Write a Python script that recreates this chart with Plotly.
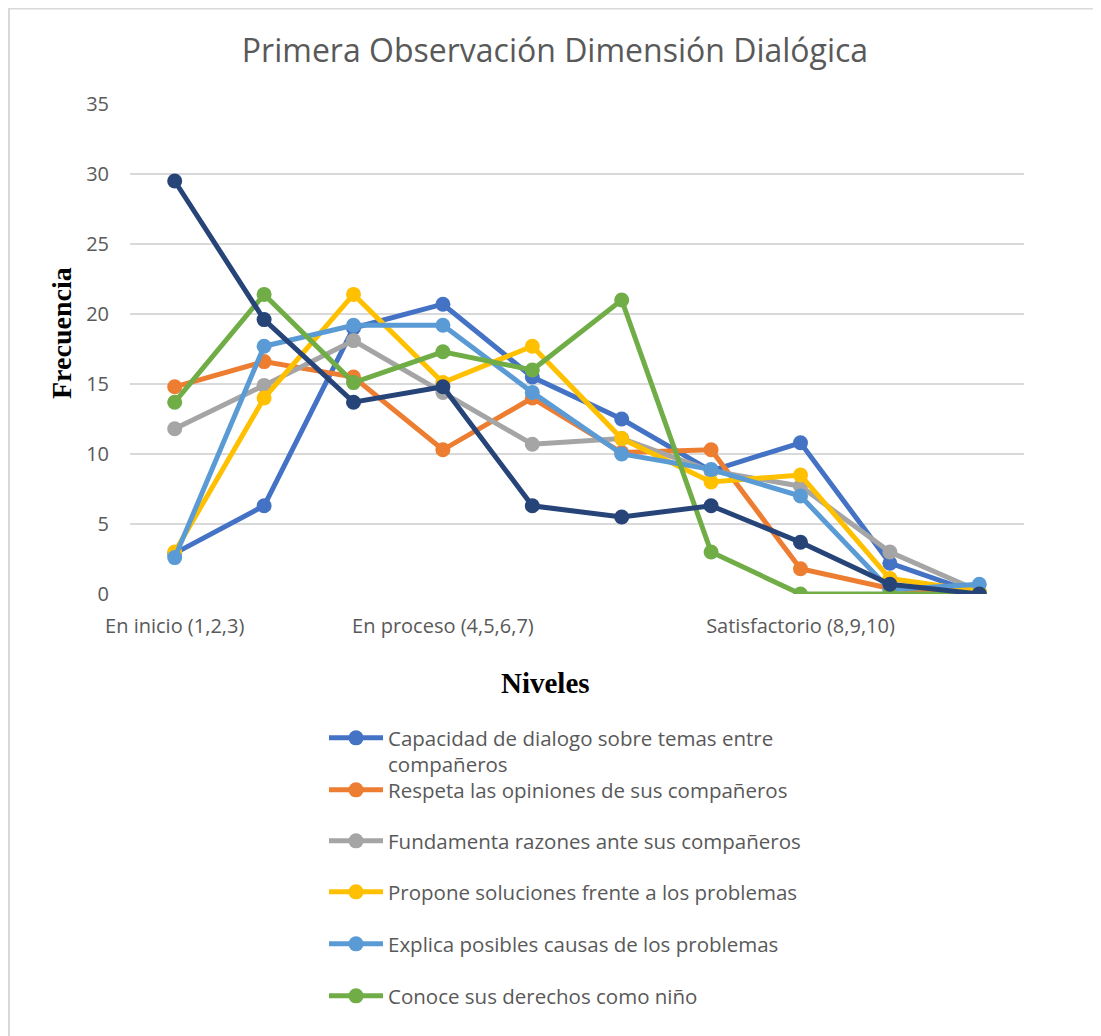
import plotly.graph_objects as go

positions = [1, 2, 3, 4, 5, 6, 7, 8, 9, 10]
tick_positions = [1, 4, 8]
tick_labels = ["En inicio (1,2,3)", "En proceso (4,5,6,7)", "Satisfactorio (8,9,10)"]

capacidad = [2.9, 6.3, 19.0, 20.7, 15.5, 12.5, 8.8, 10.8, 2.2, 0.0]
respeta = [14.8, 16.6, 15.5, 10.3, 14.0, 10.1, 10.3, 1.8, 0.4, 0.0]
fundamenta = [11.8, 14.9, 18.1, 14.4, 10.7, 11.1, 8.8, 7.7, 3.0, 0.2]
propone = [3.0, 14.0, 21.4, 15.1, 17.7, 11.1, 8.0, 8.5, 1.1, 0.2]
explica = [2.6, 17.7, 19.2, 19.2, 14.4, 10.0, 8.9, 7.0, 0.3, 0.7]
conoce = [13.7, 21.4, 15.1, 17.3, 16.0, 21.0, 3.0, 0.0, 0.0, 0.0]
septima = [29.5, 19.6, 13.7, 14.8, 6.3, 5.5, 6.3, 3.7, 0.7, 0.0]

series = [
    ("Capacidad de dialogo sobre temas entre<br>compañeros", capacidad, "#4472C4"),
    ("Respeta las opiniones de sus compañeros", respeta, "#ED7D31"),
    ("Fundamenta razones ante sus compañeros", fundamenta, "#A5A5A5"),
    ("Propone soluciones frente a los problemas", propone, "#FFC000"),
    ("Explica posibles causas de los problemas", explica, "#5B9BD5"),
    ("Conoce sus derechos como niño", conoce, "#70AD47"),
    ("Serie 7", septima, "#264478"),
]

OFF = 8  # page body margin
W, H = 1101 - OFF, 1036 - OFF
L, R, T, B = 130 - OFF, 1024 - OFF, 104 - OFF, 594 - OFF
pw, ph = R - L, B - T


def px_x(p):
    return (p - OFF - L) / pw


def px_y(p):
    return (B - (p - OFF)) / ph


SANS = "Open Sans, Noto Sans, sans-serif"
SERIF = "Liberation Serif, Times New Roman, serif"
GREY = "#595959"

legend_sym_px = [739, 791, 842, 893, 945, 997]

fig = go.Figure()
legend_names = ["legend", "legend2", "legend3", "legend4", "legend5", "legend6"]
for i, (name, vals, color) in enumerate(series):
    kw = {}
    if i < 6:
        kw["legend"] = legend_names[i]
    else:
        kw["showlegend"] = False
    fig.add_trace(go.Scatter(
        x=positions, y=vals, name=name, mode="lines+markers",
        line=dict(color=color, width=5),
        marker=dict(color=color, size=15),
        **kw,
    ))

layout_legends = {}
for i, ln in enumerate(legend_names):
    layout_legends[ln] = dict(
        x=px_x(324), y=px_y(legend_sym_px[i] - 21), xanchor="left", yanchor="top",
        xref="paper", yref="paper",
        font=dict(family=SANS, size=20.5, color=GREY),
        bgcolor="rgba(0,0,0,0)", valign="top", itemwidth=54,
    )

fig.update_layout(
    width=W, height=H,
    margin=dict(l=L, r=W - R, t=T, b=H - B, pad=0),
    paper_bgcolor="white", plot_bgcolor="white",
    title=dict(text="Primera Observación Dimensión Dialógica",
               x=(555 - OFF) / W, xref="container", xanchor="center",
               y=1 - (51 - OFF) / H, yref="container", yanchor="middle",
               font=dict(family=SANS, size=32, color=GREY)),
    xaxis=dict(range=[0.5, 10.5], tickvals=tick_positions, ticktext=tick_labels,
               showgrid=False, zeroline=False, showline=False, ticks="",
               ticklabelstandoff=18,
               tickfont=dict(family=SANS, size=20, color=GREY)),
    yaxis=dict(range=[0, 35], dtick=5, showgrid=True, gridcolor="#D9D9D9", gridwidth=1.5,
               zeroline=False, showline=False, ticks="", ticklabelstandoff=20,
               tickfont=dict(family=SANS, size=20, color=GREY)),
    annotations=[
        dict(text="<b>Frecuencia</b>", x=px_x(61), y=px_y(333), xref="paper", yref="paper",
             xanchor="center", yanchor="middle",
             showarrow=False, textangle=-90,
             font=dict(family=SERIF, size=28, color="black")),
        dict(text="<b>Niveles</b>", x=px_x(545), y=px_y(683), xref="paper", yref="paper",
             xanchor="center", yanchor="middle",
             showarrow=False,
             font=dict(family=SERIF, size=29, color="black")),
    ],
    shapes=[
        dict(type="rect", xref="paper", yref="paper",
             x0=px_x(9), x1=px_x(1099.5), y0=px_y(1100), y1=px_y(8.5),
             line=dict(color="#D9D9D9", width=2), fillcolor="rgba(0,0,0,0)", layer="below"),
    ],
    **layout_legends,
)

fig.write_html("out.html")
